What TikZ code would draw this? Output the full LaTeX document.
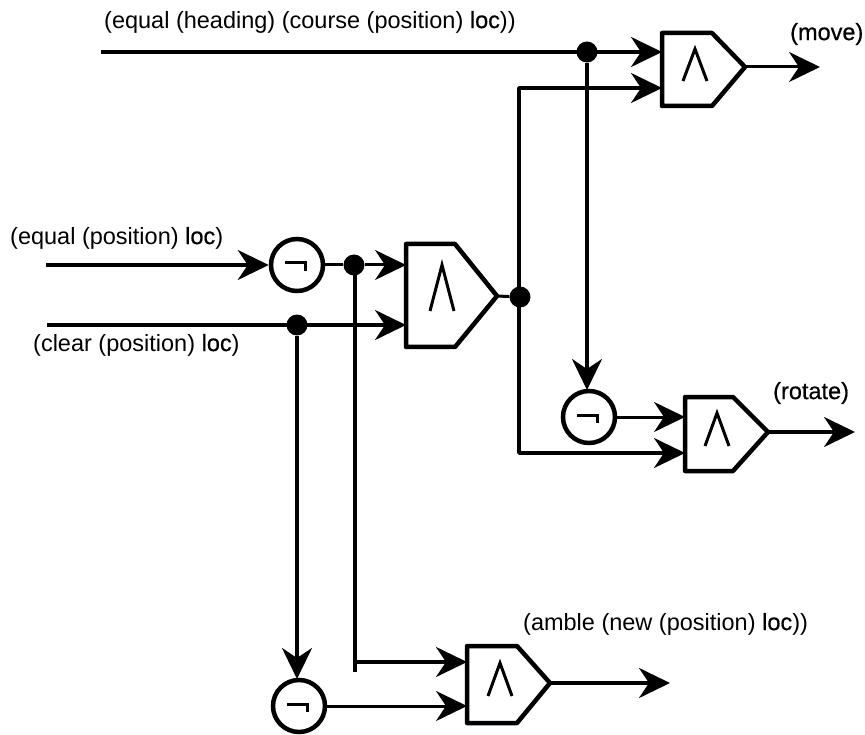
\documentclass[tikz,border=0pt]{standalone}
\usepackage{fontspec}
\setmainfont{Liberation Sans}
\newfontfamily\semi[FakeBold=0.6]{Liberation Sans}
\usetikzlibrary{arrows.meta}
\tikzset{
  tip/.tip={Stealth[length=31pt,width=30pt,inset=10pt]},
  wire/.style={line width=3.4pt,-tip},
  thinwire/.style={line width=3pt,-tip},
  bothwire/.style={line width=3.4pt,tip-tip,line join=round},
  plainwire/.style={line width=3.4pt},
  thinplain/.style={line width=3pt},
  dot/.style={circle,fill=black,inner sep=0pt,minimum size=21pt},
  notgate/.style={circle,draw,line width=4.5pt,inner sep=0pt,minimum size=52pt,fill=white},
  andgate/.style={draw,line width=4.5pt,line join=round,fill=white},
  lab/.style={font=\fontsize{23.5}{26}\selectfont,inner sep=0pt,anchor=west},
  sym/.style={line width=3pt}
}
\newcommand{\gatepath}[7]{% left top bottom tipx tipy shoulder name
  \draw[andgate] (#1,#2) -- (#6,#2) -- (#4,#5) -- (#6,#3) -- (#1,#3) -- cycle;
  \coordinate (#7) at (#4,#5);
}
\newcommand{\andsym}[3]{% leftx ytop ybottom
  \draw[sym] (#1,#3) -- ({#1+12},#2) -- ({#1+24},#3);
}
\newcommand{\negsym}[1]{\draw[sym] ([xshift=-12pt,yshift=2pt]#1.center) -- ([xshift=8pt,yshift=2pt]#1.center) -- ([xshift=8pt,yshift=-6pt]#1.center);}
\newcommand{\lc}{{\semi loc}}
\begin{document}
\begin{tikzpicture}[x=1pt,y=-1pt]
\useasboundingbox (0,0) rectangle (865,735);
\coordinate (s1) at (101,52);
\coordinate (s2) at (46,265);
\coordinate (s3) at (47,325);
\coordinate (m1) at (662,52);
\coordinate (m2) at (662,88);
\coordinate (c1) at (406,265);
\coordinate (c2) at (406,325);
\coordinate (r1) at (685,417);
\coordinate (r2) at (685,453);
\coordinate (a1) at (467,662);
\coordinate (a2) at (467,706);
\coordinate (mo) at (820,67);
\coordinate (ro) at (855,432);
\coordinate (ao) at (670,683);
\coordinate (t1) at (519,88);
\coordinate (t2) at (519,453);
\coordinate (t3) at (355,662);
\coordinate (t4) at (355,672);
\coordinate (t5) at (355,265);
\coordinate (t6) at (587,390);
\coordinate (t7) at (297,679);
\node[dot] (d1) at (587,52) {};
\node[dot] (d2) at (354,265) {};
\node[dot] (d3) at (297,325) {};
\node[dot] (d4) at (520,297) {};
\gatepath{662}{33}{106}{745}{67}{712}{gm}
\gatepath{406}{244}{347}{497}{296}{455}{gc}
\gatepath{685}{397}{471}{768}{432}{733}{gr}
\gatepath{467}{646}{723}{550}{683}{517}{ga}
\andsym{683}{49}{81}
\andsym{430}{265}{311}
\andsym{705}{413}{446}
\andsym{488}{663}{696}
\draw[wire] (s1) -- (m1);
\draw[bothwire] (m2) -- (t1) -- (t2) -- (r2);
\draw[thinplain] (gc) -- (d4);
\draw[wire] (d1) -- (t6);
\draw[thinwire] (gm) -- (mo);
\draw[wire] (gr) -- (ro);
\draw[wire] (ga) -- (ao);
\draw[thinwire] (d2) -- (c1);
\draw[wire] (s3) -- (c2);
\draw[wire] (d3) -- (t7);
\draw[plainwire] (t5) -- (t4);
\draw[wire] (t3) -- (a1);
\node[notgate] (n1) at (297,265) {}; \negsym{n1}
\node[notgate] (n2) at (589,417) {}; \negsym{n2}
\node[notgate] (n3) at (299,706) {}; \negsym{n3}
\draw[wire] (s2) -- (n1.west);
\draw[thinplain] (n1.east) -- (d2);
\draw[thinwire] (n2.east) -- (r1);
\draw[thinwire] (n3.east) -- (a2);
\node[lab] (l1) at (104,22) {(equal (heading) (course (position) \lc))};
\node[lab] (l2) at (10,238) {(equal (position) \lc)};
\node[lab] (l3) at (33,345) {(clear (position) \lc)};
\node[lab] (l4) at (790,34) {\semi (move)};
\node[lab] (l5) at (773,393) {\semi (rotate)};
\node[lab] (l6) at (523,624) {(amble (new (position) \lc))};
\end{tikzpicture}
\end{document}
